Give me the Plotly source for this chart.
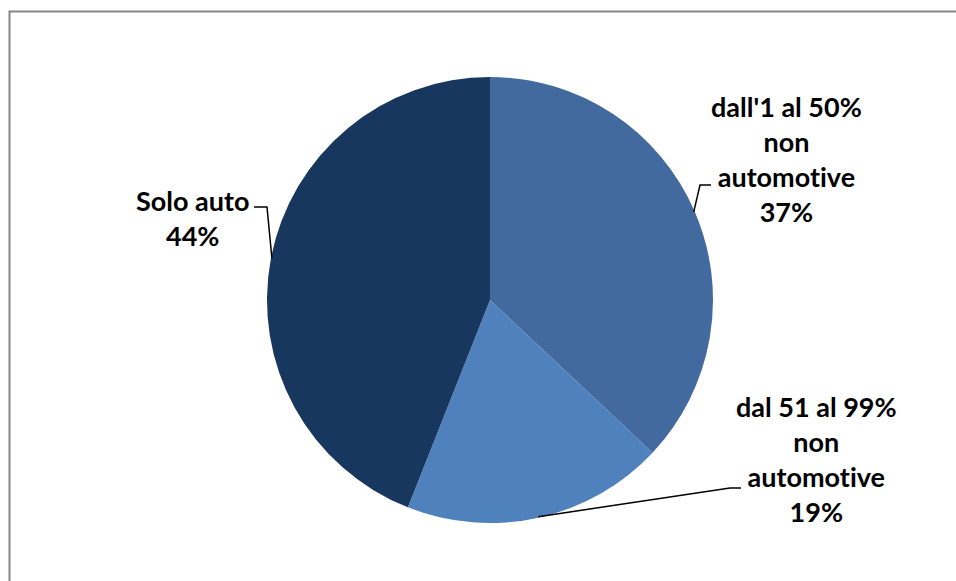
import math
import plotly.graph_objects as go

# Share of activity by automotive dependence
labels = ["dall'1 al 50%<br>non<br>automotive", "dal 51 al 99%<br>non<br>automotive", "Solo auto"]
values = [37, 19, 44]
colors = ["#426A9E", "#4F81BD", "#18375F"]

W, H = 956, 581
CX, CY, R = 490, 300, 223

# label centres and leader-line elbows (pixel layout)
label_pos = [(786, 159), (816, 459), (192, 218)]
elbows = [[(700, 185), (711, 185)], [(730, 488), (741, 488)], [(267, 207), (254, 207)]]

fig = go.Figure()
fig.add_trace(go.Pie(
    labels=labels, values=values, sort=False, direction="clockwise", rotation=0,
    marker=dict(colors=colors, line=dict(width=0)),
    textinfo="none", hoverinfo="label+percent", showlegend=False,
    domain=dict(x=[(CX - R) / W, (CX + R) / W], y=[1 - (CY + R) / H, 1 - (CY - R) / H]),
))

total = sum(values)
cum = 0
shapes = [dict(type="rect", xref="x", yref="y", x0=9.5, y0=11.5, x1=1000, y1=700,
               line=dict(color="#868686", width=2), fillcolor="rgba(0,0,0,0)", layer="below")]
annotations = []
for lab, v, (lx, ly), elb in zip(labels, values, label_pos, elbows):
    mid = (cum + v / 2) / total * 2 * math.pi
    cum += v
    sx = CX + (R - 1) * math.sin(mid)
    sy = CY - (R - 1) * math.cos(mid)
    path = f"M {sx},{sy} L {elb[0][0]},{elb[0][1]} L {elb[1][0]},{elb[1][1]}"
    shapes.append(dict(type="path", xref="x", yref="y", path=path,
                       line=dict(color="black", width=1.5)))
    pct = round(v / total * 100)
    # zero-width non-joiner keeps "ti" from fusing into a ligature
    shown = lab.replace("ti", "t\u200ci")
    annotations.append(dict(
        x=lx, y=ly, xref="x", yref="y", showarrow=False,
        text=f"<b>{shown}<br>{pct}%</b>", align="center",
        xanchor="center", yanchor="middle",
        font=dict(family="Lato", size=27, color="black"),
    ))

fig.update_layout(
    width=W, height=H, margin=dict(l=0, r=0, t=0, b=0),
    paper_bgcolor="white", plot_bgcolor="white",
    xaxis=dict(range=[0, W], visible=False, fixedrange=True),
    yaxis=dict(range=[H, 0], visible=False, fixedrange=True),
    shapes=shapes, annotations=annotations,
)
fig.write_html("out.html")
